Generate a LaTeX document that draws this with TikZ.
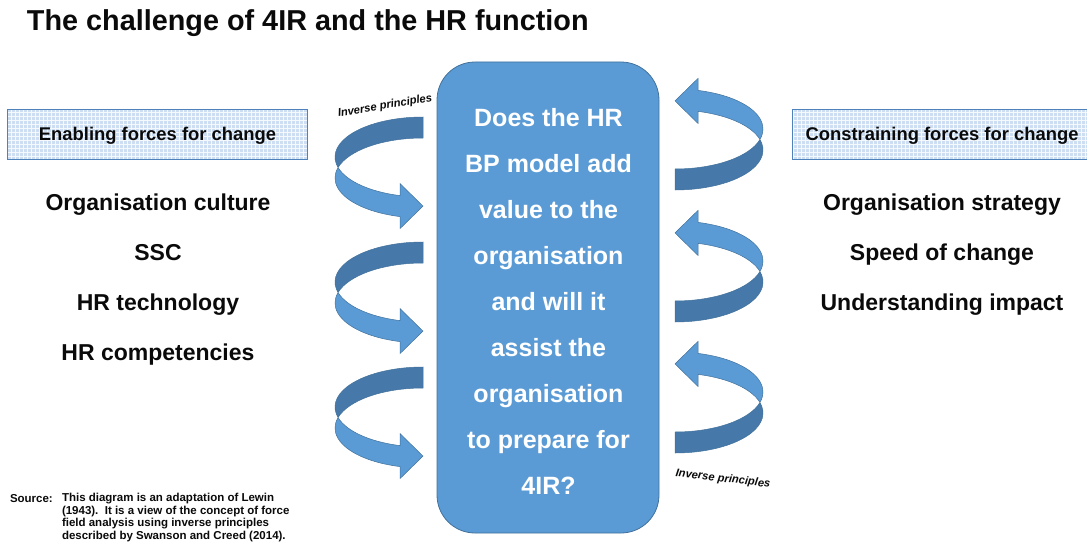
\documentclass[tikz,border=0pt]{standalone}
\usepackage{fontspec}
\setmainfont{Liberation Sans}
\definecolor{coreblue}{RGB}{91,155,213}
\definecolor{backblue}{RGB}{70,120,170}
\definecolor{rimblue}{RGB}{65,113,156}
\definecolor{paleblue}{RGB}{205,222,242}
\definecolor{frameblue}{RGB}{79,129,189}
\definecolor{ink}{RGB}{10,10,10}
\begin{document}
\begin{tikzpicture}[x=1pt,y=1pt,
  every node/.style={inner sep=0pt, outer sep=0pt, text=ink},
  hdr/.style={draw=frameblue, line width=0.8pt, fill=paleblue,
    minimum width=300pt, minimum height=50pt, text depth=0pt,
    font=\fontsize{18.4}{22}\selectfont\bfseries,
    path picture={\draw[white, line width=0.6pt, opacity=0.8]
      (path picture bounding box.south west) grid[step=4pt]
      (path picture bounding box.north east);}},
  force/.style={font=\fontsize{23}{27}\selectfont\bfseries, anchor=base},
  turn/.style={font=\fontsize{11.2}{13}\selectfont\bfseries\itshape},
  % curved ribbon arrow: tail at the top right, head at the bottom right
  curvy/.pic={
    % back face of the ribbon (tail side)
    \fill[backblue, draw=rimblue, line width=0.5pt]
      (0,40) arc[start angle=90, end angle=195.22, x radius=88, y radius=40]
      arc[start angle=164.78, end angle=90, x radius=88, y radius=40] -- cycle;
    % front face of the ribbon with the arrow head
    \fill[coreblue, draw=rimblue, line width=0.5pt]
      (-84.91,-10.5) arc[start angle=164.78, end angle=254.85, x radius=88, y radius=40]
      -- (-23,-71.6) -- (0,-49.1) -- (-23,-26.6) -- (-23,-38.6)
      arc[start angle=254.85, end angle=195.22, x radius=88, y radius=40] -- cycle;
  }
]
\useasboundingbox (0,0) rectangle (1087,-543);

% title
\node[anchor=base west, font=\fontsize{28.8}{34}\selectfont\bfseries] (title)
  at (27,-31) {The challenge of 4IR and the HR function};

% column headings
\node[hdr] (enable) at (157.5,-134) {Enabling forces for change};
\node[hdr] (restrain) at (942,-134) {Constraining forces for change};

% enabling forces
\node[force] (e1) at (158,-210) {Organisation culture};
\node[force] (e2) at (158,-260) {SSC};
\node[force] (e3) at (158,-310) {HR technology};
\node[force] (e4) at (158,-360) {HR competencies};

% constraining forces
\node[force] (c1) at (942,-210) {Organisation strategy};
\node[force] (c2) at (942,-260) {Speed of change};
\node[force] (c3) at (942,-310) {Understanding impact};

% central question
\node[draw=rimblue, fill=coreblue, rounded corners=38pt, line width=0.8pt,
  minimum width=222pt, minimum height=471pt] (q) at (548,-297.5) {};
\node[align=center, text=white, font=\fontsize{25}{46}\selectfont\bfseries] (qt)
  at (548.5,-301.5) {Does the HR\\BP model add\\value to the\\organisation\\and will it\\assist the\\organisation\\to prepare for\\4IR?};

% ribbon arrows on the enabling side
\pic at (423,-157) {curvy};
\pic at (423,-282) {curvy};
\pic at (423,-407) {curvy};

% ribbon arrows on the constraining side
\pic[rotate=180] at (675,-150) {curvy};
\pic[rotate=180] at (675,-282) {curvy};
\pic[rotate=180] at (675,-413) {curvy};

% labels on the arrows
\node[turn, rotate=9.5] (ipa) at (385,-106) {Inverse principles};
\node[turn, rotate=-7] (ipb) at (723,-479) {Inverse principles};

% source note
\node[anchor=base west, font=\fontsize{11.5}{12.5}\selectfont\bfseries] (src)
  at (10,-502) {Source:};
\node[anchor=north west, align=left, font=\fontsize{11.5}{12.5}\selectfont\bfseries] (srctext)
  at (62,-493.6) {This diagram is an adaptation of Lewin\\(1943).\ \ It is a view of the concept of force\\field analysis using inverse principles\\described by Swanson and Creed (2014).};
\end{tikzpicture}
\end{document}
